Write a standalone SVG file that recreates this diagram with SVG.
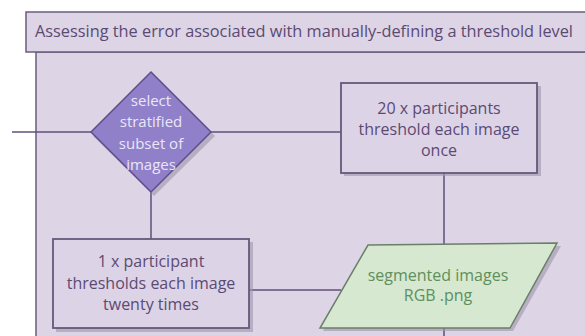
<svg xmlns="http://www.w3.org/2000/svg" width="585" height="336" viewBox="0 0 585 336">
<defs>
<style>
.panel{fill:#ddd4e6;stroke:#6b5c7c;stroke-width:1.5}
.box{fill:#ddd3e7;stroke:#66587a;stroke-width:1.8}
.shadow{fill:#9f94ab;opacity:0.6}
.conn{fill:none;stroke:#5f4f7e;stroke-width:1.5}
.t{font-family:"Open Sans","Liberation Sans",sans-serif;font-size:16px;text-anchor:middle;fill:#5b4a72}
.dt{font-family:"Open Sans","Liberation Sans",sans-serif;font-size:15px;text-anchor:middle;fill:#ebe6f7}
.gt{font-family:"Open Sans","Liberation Sans",sans-serif;font-size:16px;text-anchor:middle;fill:#5e8f5c}
</style>
</defs>
<rect width="585" height="336" fill="#ffffff"/>
<g id="panel">
<rect class="panel" x="36" y="52" width="560" height="300"/>
</g>
<g id="title">
<rect class="panel" x="26" y="12" width="570" height="40"/>
<text x="35" y="37" font-family="'Open Sans','Liberation Sans',sans-serif" font-size="16.5" fill="#5b4a72" textLength="538" lengthAdjust="spacingAndGlyphs">Assessing the error associated with manually-defining a threshold level</text>
</g>
<g id="connectors">
<line class="conn" x1="12" y1="132" x2="91" y2="132"/>
<line class="conn" x1="211" y1="132" x2="341" y2="132"/>
<line class="conn" x1="151" y1="192" x2="151" y2="239"/>
<line class="conn" x1="444" y1="173" x2="444" y2="244"/>
<line class="conn" x1="249" y1="290" x2="341" y2="290"/>
<line class="conn" x1="444" y1="328" x2="444" y2="336"/>
</g>
<g id="diamond">
<polygon class="shadow" points="154,76 215,136 154,196 93,136"/>
<polygon points="151,72 211,132 151,192 91,132" fill="#8f80c9" stroke="#5d4f8c" stroke-width="1.5"/>
<text class="dt" x="151" y="106">select</text>
<text class="dt" x="151" y="127">stratified</text>
<text class="dt" x="151" y="149">subset of</text>
<text class="dt" x="151" y="170">images</text>
</g>
<g id="box20">
<rect class="shadow" x="344" y="86" width="197" height="90"/>
<rect class="box" x="341" y="83" width="196" height="90"/>
<text class="t" x="439" y="114">20 x participants</text>
<text class="t" x="439" y="135">threshold each image</text>
<text class="t" x="439" y="156">once</text>
</g>
<g id="box1">
<rect class="shadow" x="56" y="242" width="197" height="90"/>
<rect class="box" x="53" y="239" width="196" height="89"/>
<text class="t" x="151" y="267">1 x participant</text>
<text class="t" x="151" y="289">thresholds each image</text>
<text class="t" x="151" y="310">twenty times</text>
</g>
<g id="segmented">
<polygon points="371,248 561,246 513,331 323,331" fill="#9f94ab" opacity="0.6"/>
<polygon points="368,245 557,243 510,328 320,328" fill="#d6e8d0" stroke="#6a7f6a" stroke-width="1.5"/>
<text class="gt" x="438" y="281">segmented images</text>
<text class="gt" x="438" y="301">RGB .png</text>
</g>
</svg>
